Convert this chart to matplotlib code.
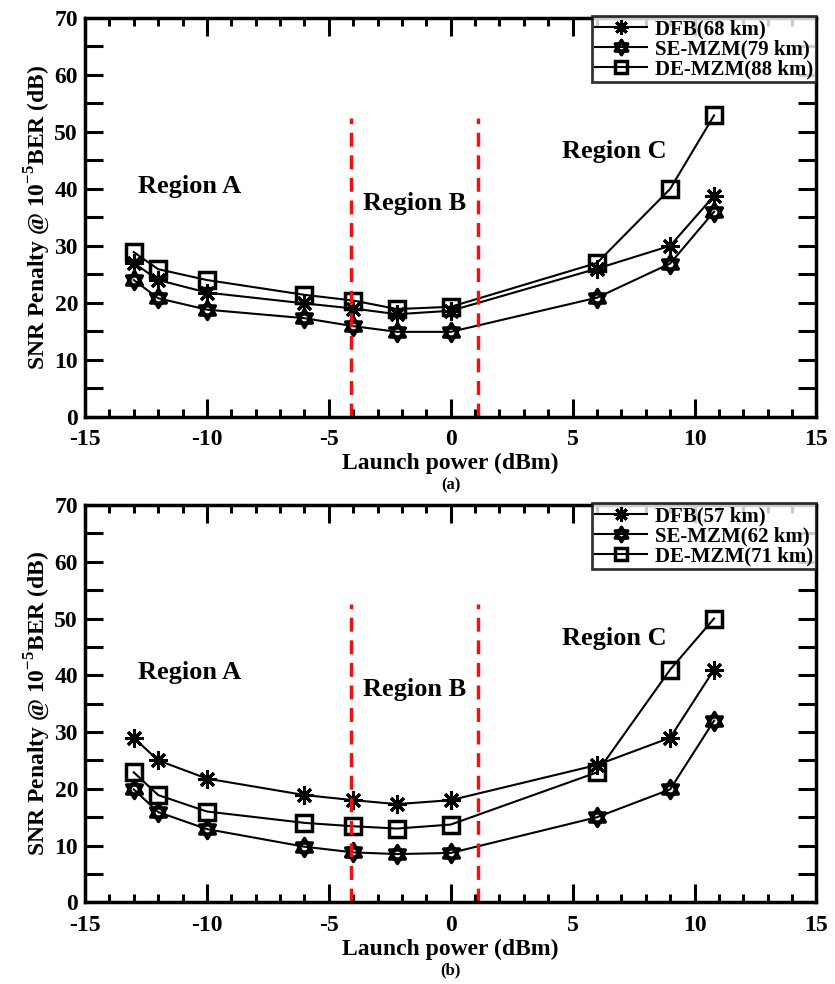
import matplotlib
matplotlib.use("Agg")
import matplotlib.pyplot as plt
import numpy as np
from matplotlib.path import Path
from matplotlib.ticker import MultipleLocator

plt.rcParams['font.family'] = ['Liberation Serif', 'DejaVu Serif']
plt.rcParams['font.weight'] = 'bold'
plt.rcParams['axes.unicode_minus'] = False
plt.rcParams['mathtext.fontset'] = 'custom'
plt.rcParams['mathtext.rm'] = 'Liberation Serif:bold'
plt.rcParams['mathtext.bf'] = 'Liberation Serif:bold'

# Data
launch_power = [-13, -12, -10, -6, -4, -2.2, 0, 6, 9, 10.8]

dfb_a = [27, 24, 21.8, 19.9, 19.0, 18.0, 18.6, 26, 30, 38.8]
se_a = [24, 20.8, 18.8, 17.3, 15.9, 14.9, 14.9, 20.9, 26.9, 36]
de_a = [28.9, 25.9, 24, 21.4, 20.4, 18.9, 19.3, 27, 40, 52.9]

dfb_b = [29, 25, 21.8, 18.9, 18.0, 17.3, 18.0, 24.2, 29, 41]
se_b = [19.9, 15.9, 12.9, 9.8, 8.8, 8.5, 8.7, 15, 19.9, 32]
de_b = [22.9, 18.9, 16, 14, 13.4, 13.0, 13.7, 22.9, 41, 50]

labels_a = ['DFB(68 km)', 'SE-MZM(79 km)', 'DE-MZM(88 km)']
labels_b = ['DFB(57 km)', 'SE-MZM(62 km)', 'DE-MZM(71 km)']

region_lines = [-4.1, 1.1]
region_texts = ['Region A', 'Region B', 'Region C']
region_pos = [(-10.7, 40.5), (-1.5, 37.5), (6.7, 46.5)]

# hexagram marker (star of David)
t1 = [(np.cos(np.pi/2 + k*2*np.pi/3), np.sin(np.pi/2 + k*2*np.pi/3)) for k in range(3)]
t2 = [(np.cos(-np.pi/2 + k*2*np.pi/3), np.sin(-np.pi/2 + k*2*np.pi/3)) for k in range(3)]
verts = t1 + [t1[0]] + t2 + [t2[0]]
codes = [Path.MOVETO, Path.LINETO, Path.LINETO, Path.CLOSEPOLY] * 2
hexagram = Path(verts, codes)

fig = plt.figure(figsize=(8.35, 9.84), dpi=100)
ax_a = fig.add_axes([0.1018, 0.5765, 0.8760, 0.4052])
ax_b = fig.add_axes([0.1018, 0.0830, 0.8760, 0.4038])

def draw(ax, dfb, se, de, labels, caption):
    ax.plot(launch_power, dfb, color='black', lw=1.5, marker=(8, 2, 0),
            ms=13, mew=2.2, mec='black', label=labels[0])
    ax.plot(launch_power, se, color='black', lw=1.5, marker=hexagram,
            ms=13, mew=2.5, mfc='none', mec='black', label=labels[1])
    ax.plot(launch_power, de, color='black', lw=1.5, marker='s',
            ms=11, mew=2.5, mfc='none', mec='black', label=labels[2])
    for xv in region_lines:
        ax.plot([xv, xv], [0, 52.5], color='#ee1111', lw=2.5, ls=(0, (4, 2.5)))
    for txt, (xp, yp) in zip(region_texts, region_pos):
        ax.text(xp, yp, txt, fontsize=19, fontweight='bold', ha='center', va='center')
    ax.set_xlim(-15, 15)
    ax.set_ylim(0, 70)
    ax.xaxis.set_major_locator(MultipleLocator(5))
    ax.xaxis.set_minor_locator(MultipleLocator(1))
    ax.yaxis.set_major_locator(MultipleLocator(10))
    ax.yaxis.set_minor_locator(MultipleLocator(5))
    ax.tick_params(axis='both', which='both', direction='in', top=True, right=True,
                   width=2.2, labelsize=17)
    ax.tick_params(axis='x', which='major', length=13, pad=9)
    ax.tick_params(axis='x', which='minor', length=6)
    ax.tick_params(axis='y', which='both', length=13, pad=5)
    for lab in ax.get_xticklabels() + ax.get_yticklabels():
        lab.set_fontweight('bold')
    for lab in ax.get_yticklabels():
        lab.set_verticalalignment('center_baseline')
    for sp in ax.spines.values():
        sp.set_linewidth(2.5)
    ax.set_xlabel('Launch power (dBm)', fontsize=17, fontweight='bold', labelpad=2)
    ax.set_ylabel(r'SNR Penalty @ 10$^{-5}$BER (dB)', fontsize=17, fontweight='bold', labelpad=2)
    leg = ax.legend(loc='upper right', bbox_to_anchor=(1.0, 1.005), fontsize=15,
                    frameon=True, fancybox=False, edgecolor='black', borderpad=0.15,
                    handlelength=2.5, handletextpad=0.4, labelspacing=0.0,
                    borderaxespad=0.0, markerscale=0.8)
    leg.get_frame().set_linewidth(2.0)
    for t in leg.get_texts():
        t.set_fontweight('bold')
    ax.text(0.5, -0.172, caption, transform=ax.transAxes, fontsize=12,
            fontweight='bold', ha='center', va='center')

draw(ax_a, dfb_a, se_a, de_a, labels_a, '(a)')
draw(ax_b, dfb_b, se_b, de_b, labels_b, '(b)')

fig.savefig('out.png', dpi=100)
